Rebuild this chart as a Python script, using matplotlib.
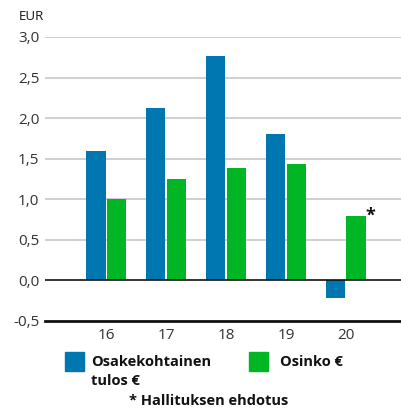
import numpy as np
from matplotlib import pyplot as plt
from matplotlib.patches import Rectangle

years = ["16", "17", "18", "19", "20"]
eps = [1.60, 2.13, 2.77, 1.81, -0.22]
dividend = [1.00, 1.25, 1.39, 1.44, 0.80]
y_ticks = [-0.5, 0.0, 0.5, 1.0, 1.5, 2.0, 2.5, 3.0]

BLUE = "#0077b0"
GREEN = "#00b624"
TEXT = "#333333"

plt.rcParams["font.family"] = ["Open Sans", "DejaVu Sans"]

fig = plt.figure(figsize=(4.01, 4.09), dpi=100)
ax = fig.add_axes([45 / 401, 88 / 409, 1 - 45 / 401, 284 / 409])

x = np.arange(len(years))
w = 0.32
ax.bar(x - 0.17, eps, w, color=BLUE, zorder=3)
ax.bar(x + 0.17, dividend, w, color=GREEN, zorder=3)

ax.set_ylim(-0.5, 3.0)
ax.set_xlim(-1.02, 4.92)
ax.set_yticks(y_ticks)
ax.set_yticklabels([f"{v:.1f}".replace(".", ",") for v in y_ticks])
ax.set_xticks(x)
ax.set_xticklabels(years)
ax.tick_params(length=0, labelsize=11, colors=TEXT, pad=4)
ax.tick_params(axis="x", pad=5)

for v in y_ticks[2:]:
    ax.axhline(v, color="#cccccc", lw=1.3, zorder=1)
ax.axhline(0, color="#111111", lw=1.2, zorder=4)
for s in ["top", "right", "left"]:
    ax.spines[s].set_visible(False)
ax.spines["bottom"].set_linewidth(2)
ax.spines["bottom"].set_color("#111111")

# asterisk on the proposed dividend
ax.text(x[-1] + 0.33, dividend[-1], "*", fontsize=13, fontweight="bold",
        ha="left", va="center", color="#111111")

fig.text(19 / 401, 1 - 17 / 409, "EUR", fontsize=9.5, color="#111111", va="center")

# legend
fig.patches.append(Rectangle((65 / 401, 1 - 371 / 409), 19 / 401, 19 / 409,
                             transform=fig.transFigure, color=BLUE))
fig.patches.append(Rectangle((249 / 401, 1 - 371 / 409), 19 / 401, 19 / 409,
                             transform=fig.transFigure, color=GREEN))
fig.text(91 / 401, 1 - 362 / 409, "Osakekohtainen", fontsize=10.5, fontweight="bold",
         color="#111111", va="center")
fig.text(91 / 401, 1 - 381 / 409, "tulos €", fontsize=10.5, fontweight="bold",
         color="#111111", va="center")
fig.text(280 / 401, 1 - 362 / 409, "Osinko €", fontsize=10.5, fontweight="bold",
         color="#111111", va="center")
fig.text(209 / 401, 1 - 401 / 409, "* Hallituksen ehdotus", fontsize=10.5,
         fontweight="bold", color="#111111", ha="center", va="center")

fig.savefig("out.png", dpi=100)
